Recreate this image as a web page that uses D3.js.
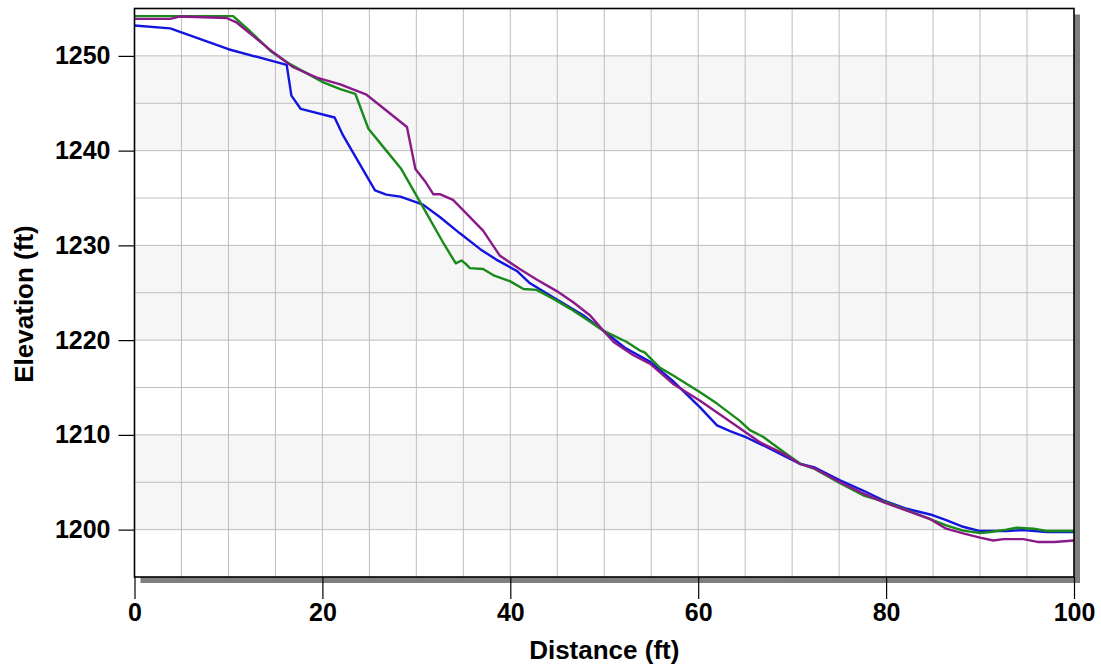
<!DOCTYPE html>
<html>
<head>
<meta charset="utf-8">
<script src="https://cdn.jsdelivr.net/npm/d3@7"></script>
<style>
  html, body { margin: 0; padding: 0; background: #ffffff; }
  svg { display: block; }
  text { font-family: "Liberation Sans", Arial, sans-serif; font-weight: bold; fill: #000; }
</style>
</head>
<body>
<svg id="chart" width="1101" height="666"></svg>
<script>
// ---- data ----
const xTicks = [0, 20, 40, 60, 80, 100];
const yTicks = [1200, 1210, 1220, 1230, 1240, 1250];
const xTitle = "Distance (ft)";
const yTitle = "Elevation (ft)";

const blueDist = [0, 3.8, 10, 16.2, 16.7, 17.7, 21.3, 22.2, 25.6, 26.8, 28.3, 30.7, 32.5, 34.6, 36.8, 38.5, 40.7, 42.1, 44.6, 47.8, 49.9, 52.2, 54.9, 57.3, 60.2, 62.0, 63.4, 65.2, 66.9, 69.1, 70.8, 72.3, 75.1, 77.6, 79.7, 82.2, 84.7, 86.4, 88.2, 90.0, 92.8, 94.6, 97.1, 100];
const blueElev = [1253.2, 1252.9, 1250.7, 1249.05, 1245.8, 1244.4, 1243.5, 1241.6, 1235.8, 1235.35, 1235.15, 1234.3, 1233.0, 1231.3, 1229.6, 1228.5, 1227.3, 1226.0, 1224.5, 1222.6, 1221.0, 1219.2, 1217.7, 1215.7, 1212.9, 1211.0, 1210.4, 1209.7, 1208.9, 1207.8, 1206.95, 1206.6, 1205.2, 1204.1, 1203.1, 1202.2, 1201.6, 1201.0, 1200.3, 1199.85, 1199.85, 1199.95, 1199.75, 1199.75];

const greenDist = [0, 10.5, 12.3, 14.5, 16.6, 20.1, 21.9, 23.5, 24.9, 26.8, 28.4, 30.5, 32.9, 34.2, 34.8, 35.2, 35.7, 37.1, 38.3, 40.0, 41.4, 42.8, 44.6, 46.4, 48.1, 49.9, 52.4, 53.8, 54.3, 55.9, 57.3, 60.2, 62.0, 64.4, 65.5, 66.9, 69.1, 70.8, 72.3, 75.1, 77.6, 80.0, 82.9, 84.7, 86.4, 88.2, 90.0, 91.1, 92.8, 93.9, 95.7, 97.1, 100];
const greenElev = [1254.2, 1254.2, 1252.6, 1250.5, 1249.1, 1247.2, 1246.5, 1246.0, 1242.3, 1240.0, 1238.05, 1234.4, 1230.2, 1228.1, 1228.4, 1228.1, 1227.6, 1227.5, 1226.8, 1226.2, 1225.4, 1225.3, 1224.35, 1223.3, 1222.2, 1221.0, 1219.8, 1218.9, 1218.7, 1217.1, 1216.3, 1214.5, 1213.3, 1211.5, 1210.5, 1209.8, 1208.2, 1207.0, 1206.45, 1204.9, 1203.6, 1202.9, 1201.8, 1201.1, 1200.45, 1199.9, 1199.65, 1199.75, 1200.0, 1200.2, 1200.1, 1199.85, 1199.85];

const purpleDist = [0, 3.8, 4.8, 9.8, 10.9, 13.0, 14.8, 16.9, 19.4, 21.9, 24.7, 29.0, 29.9, 30.9, 31.8, 32.5, 33.9, 35.0, 37.1, 38.9, 41.0, 42.8, 44.9, 46.7, 48.5, 49.9, 51.0, 53.1, 54.9, 57.3, 60.2, 63.7, 66.6, 69.1, 70.8, 72.3, 75.1, 77.6, 79.7, 82.2, 84.7, 86.4, 88.2, 90.0, 91.4, 92.5, 94.6, 96.1, 97.9, 100];
const purpleElev = [1253.9, 1253.9, 1254.15, 1254.0, 1253.5, 1251.8, 1250.35, 1248.8, 1247.7, 1247.0, 1245.9, 1242.5, 1238.05, 1236.8, 1235.4, 1235.4, 1234.8, 1233.7, 1231.55, 1228.9, 1227.5, 1226.4, 1225.2, 1224.0, 1222.6, 1221.0, 1219.8, 1218.4, 1217.5, 1215.4, 1213.6, 1211.2, 1209.2, 1208.0, 1206.95, 1206.5, 1205.0, 1203.8, 1202.9, 1202.0, 1201.1, 1200.1, 1199.6, 1199.15, 1198.85, 1199.0, 1199.0, 1198.7, 1198.7, 1198.85];

const seriesColors = ["#1414e0", "#1a8a1a", "#8a1a8a"];

// ---- layout ----
const svg = d3.select("#chart");
const L = 134.5, R = 1074, T = 8.5, B = 577;
const x = d3.scaleLinear().domain([0, 100]).range([L, R]);
const y = d3.scaleLinear().domain([1195, 1255]).range([B, T]);

// shadow
svg.append("rect").attr("x", L + 6).attr("y", T + 6).attr("width", R - L).attr("height", B - T).attr("fill", "#7f7f7f");
// plot background
svg.append("rect").attr("x", L).attr("y", T).attr("width", R - L).attr("height", B - T).attr("fill", "#ffffff");

// alternating bands
const bandStarts = [1200, 1220, 1240];
svg.selectAll("rect.band").data(bandStarts).enter().append("rect")
  .attr("class", "band")
  .attr("x", L).attr("width", R - L)
  .attr("y", d => y(d + 10)).attr("height", d => y(d) - y(d + 10))
  .attr("fill", "#f6f6f6");

// gridlines
const gx = d3.range(5, 100, 5);
const gy = d3.range(1200, 1255, 5);
svg.selectAll("line.gx").data(gx).enter().append("line")
  .attr("x1", d => x(d)).attr("x2", d => x(d)).attr("y1", T).attr("y2", B)
  .attr("stroke", "#bebebe").attr("stroke-width", 1);
svg.selectAll("line.gy").data(gy).enter().append("line")
  .attr("y1", d => y(d)).attr("y2", d => y(d)).attr("x1", L).attr("x2", R)
  .attr("stroke", "#bebebe").attr("stroke-width", 1);

// lines
const series = [
  d3.zip(blueDist, blueElev),
  d3.zip(greenDist, greenElev),
  d3.zip(purpleDist, purpleElev)
];
const line = d3.line().x(d => x(d[0])).y(d => y(d[1]));
series.forEach((s, i) => {
  svg.append("path").datum(s).attr("d", line)
    .attr("fill", "none").attr("stroke", seriesColors[i])
    .attr("stroke-width", 2.4).attr("stroke-linejoin", "round");
});

// border
svg.append("rect").attr("x", L).attr("y", T).attr("width", R - L).attr("height", B - T)
  .attr("fill", "none").attr("stroke", "#000").attr("stroke-width", 1.6);

// axes
const xAxis = d3.axisBottom(x).tickValues(xTicks).tickSize(22).tickPadding(4).tickFormat(d3.format("d"));
const gX = svg.append("g").attr("transform", `translate(0,${B})`).call(xAxis);
gX.select(".domain").remove();
gX.selectAll(".tick line").attr("stroke", "#000").attr("stroke-width", 1.2);
gX.selectAll(".tick text").style("font-size", "25px").attr("fill", "#000");

const yAxis = d3.axisLeft(y).tickValues(yTicks).tickSize(16).tickPadding(8).tickFormat(d3.format("d"));
const gY = svg.append("g").attr("transform", `translate(${L},0)`).call(yAxis);
gY.select(".domain").remove();
gY.selectAll(".tick line").attr("stroke", "#000").attr("stroke-width", 1.2);
gY.selectAll(".tick text").style("font-size", "25px").attr("fill", "#000");

// titles
svg.append("text").attr("x", (L + R) / 2).attr("y", 659).attr("text-anchor", "middle")
  .style("font-size", "26px").text(xTitle);
svg.append("text").attr("transform", `translate(33,304) rotate(-90)`).attr("text-anchor", "middle")
  .style("font-size", "26px").text(yTitle);
</script>
</body>
</html>
